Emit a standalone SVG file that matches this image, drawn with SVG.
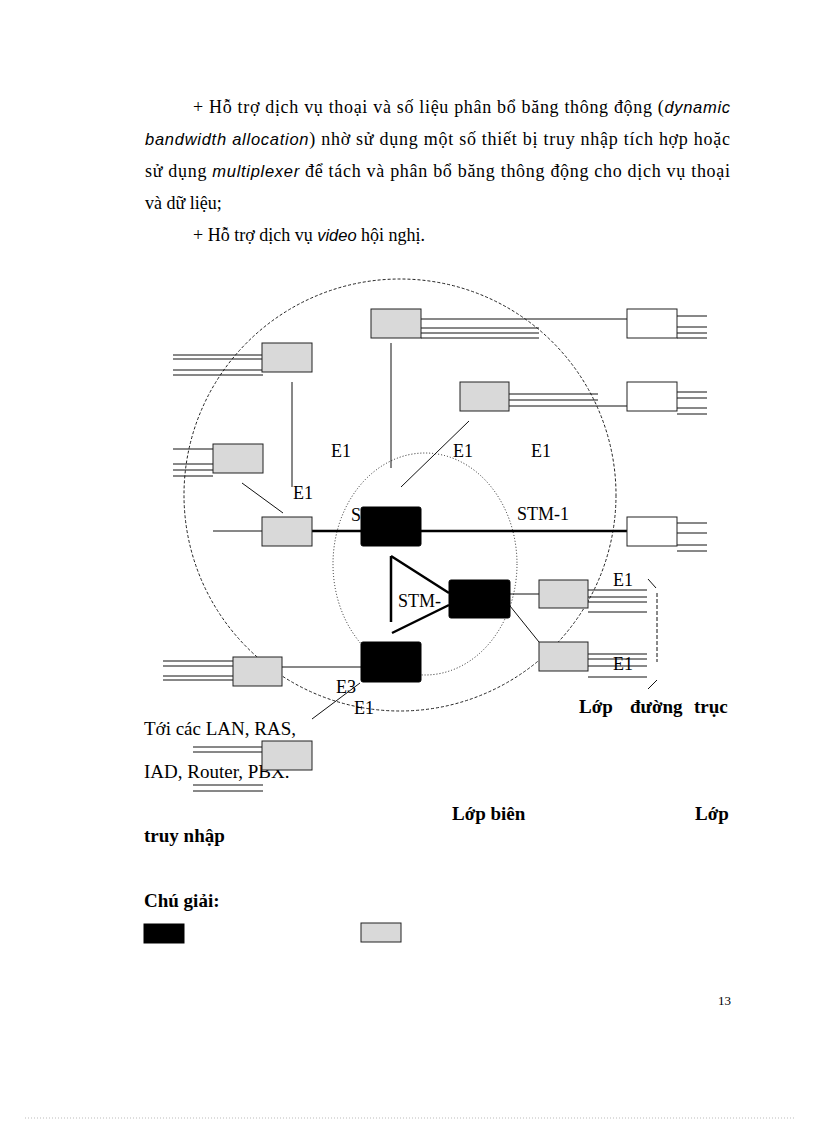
<svg xmlns="http://www.w3.org/2000/svg" width="816" height="1123" viewBox="0 0 816 1123">
<style>
.t{font-family:"Liberation Serif","Times New Roman",serif;font-size:18px;fill:#000}
.i{font-family:"Liberation Sans",Arial,sans-serif;font-style:italic;font-size:16.5px}
.b{font-family:"Liberation Serif","Times New Roman",serif;font-size:19px;font-weight:bold;fill:#000}
.lb{font-family:"Liberation Serif","Times New Roman",serif;font-size:18px;fill:#000}
.lt{font-family:"Liberation Serif","Times New Roman",serif;font-size:19px;fill:#000}
.gray{fill:#d9d9d9;stroke:#222;stroke-width:1}
.white{fill:#fff;stroke:#222;stroke-width:1}
.blk{fill:#000;stroke:#000;stroke-width:1}
.ln{stroke:#111;stroke-width:1;fill:none}
.thick{stroke:#000;stroke-width:2.5;fill:none}
.big{fill:none;stroke:#222;stroke-width:1;stroke-dasharray:3 2}
.inner{fill:none;stroke:#222;stroke-width:1;stroke-dasharray:1 2}
</style>
<rect width="816" height="1123" fill="#fff"/>

<g id="body-text">
<text class="t" x="193" y="113" textLength="537" lengthAdjust="spacing">+ Hỗ trợ dịch vụ thoại và số liệu  phân bổ băng thông động (<tspan class="i">dynamic</tspan></text>
<text class="t" x="145" y="145" textLength="585" lengthAdjust="spacing"><tspan class="i">bandwidth allocation</tspan>) nhờ sử dụng một số thiết  bị truy nhập tích hợp hoặc</text>
<text class="t" x="145" y="177" textLength="585" lengthAdjust="spacing">sử dụng <tspan class="i">multiplexer</tspan> để tách và phân bổ băng thông động cho dịch vụ thoại</text>
<text class="t" x="145" y="209">và dữ liệu;</text>
<text class="t" x="193" y="241">+ Hỗ trợ dịch vụ <tspan class="i">video</tspan> hội nghị.</text>
</g>

<g id="layers">
<ellipse id="edge-layer-circle" class="big" cx="400" cy="495" rx="216" ry="216"/>
<ellipse id="core-layer-circle" class="inner" cx="425" cy="564" rx="92" ry="111"/>
</g>

<g id="connectors">
<path class="ln" d="M173 355H262M173 359H262M173 370H262M173 375H263"/>
<path class="ln" d="M173 449H213M173 464H213M173 470H213M173 476H213"/>
<path class="ln" d="M213 531H262"/>
<path class="ln" d="M163 661H233M163 666H233M163 676H233M163 680H233"/>
<path class="ln" d="M193 747H262M193 752H262M193 785H263M193 791H263"/>
<path class="ln" d="M421 319H627M421 328H539M421 333H539M421 338H539"/>
<path class="ln" d="M509 394H598M509 400H598M509 406H627"/>
<path class="ln" d="M677 316H707M677 327H707M677 333H707M677 338H707"/>
<path class="ln" d="M677 392H707M677 398H707M677 408H707M677 414H707"/>
<path class="ln" d="M677 523H707M677 533H707M677 545H707M677 551H707"/>
<path class="thick" d="M312 531H627"/>
<path class="ln" d="M510 594H539M510 606L539 642"/>
<path class="ln" d="M588 590H647M588 597H647M588 602H647M588 612H647"/>
<path class="ln" d="M588 654H647M588 659H647M588 666H647M588 677H647"/>
<path class="ln" d="M282 667H361"/>
<path class="ln" d="M292 382V487M391 343V468"/>
<path class="ln" d="M469 421L401 487M242 483L283 513M360 683L312 719"/>
<path class="thick" stroke-width="3" d="M391 556V622M391 556L449 593M392 633L449 605"/>
<path class="ln" d="M648 579L656 588M657 680L648 689"/>
<path class="ln" stroke-dasharray="4 2" d="M657 593V662"/>
</g>

<g id="labels">
<text class="lb" x="331" y="457">E1</text>
<text class="lb" x="453" y="457">E1</text>
<text class="lb" x="531" y="457">E1</text>
<text class="lb" x="293" y="499">E1</text>
<text class="lb" x="351" y="521">S</text>
<text class="lb" x="517" y="520">STM-1</text>
<text class="lb" x="398" y="607">STM-</text>
<text class="lb" x="613" y="586">E1</text>
<text class="lb" x="613" y="670">E1</text>
<text class="lb" x="336" y="693">E3</text>
<text class="lb" x="354" y="714">E1</text>
<text class="lt" x="144" y="735">Tới các LAN, RAS,</text>
<text class="lt" x="144" y="778">IAD, Router, PBX.</text>
</g>

<g id="node-top-centre"><rect class="gray" x="371" y="309" width="50" height="29"/></g>
<g id="node-upper-left"><rect class="gray" x="262" y="343" width="50" height="29"/></g>
<g id="node-left-mid"><rect class="gray" x="213" y="444" width="50" height="29"/></g>
<g id="node-left-trunk"><rect class="gray" x="262" y="517" width="50" height="29"/></g>
<g id="node-upper-right"><rect class="gray" x="460" y="382" width="49" height="29"/></g>
<g id="node-left-bottom"><rect class="gray" x="233" y="657" width="49" height="29"/></g>
<g id="node-bottom"><rect class="gray" x="262" y="741" width="50" height="29"/></g>
<g id="node-right-1"><rect class="gray" x="539" y="580" width="49" height="28"/></g>
<g id="node-right-2"><rect class="gray" x="539" y="642" width="49" height="29"/></g>

<g id="node-white-1"><rect class="white" x="627" y="309" width="50" height="29"/></g>
<g id="node-white-2"><rect class="white" x="627" y="382" width="50" height="29"/></g>
<g id="node-white-3"><rect class="white" x="627" y="517" width="50" height="29"/></g>

<g id="node-core-1"><rect class="blk" x="361" y="507" width="60" height="39" rx="2"/></g>
<g id="node-core-2"><rect class="blk" x="449" y="580" width="61" height="38" rx="2"/></g>
<g id="node-core-3"><rect class="blk" x="361" y="642" width="60" height="40" rx="2"/></g>

<g id="layer-labels">
<text class="b" y="713"><tspan x="579">Lớp</tspan><tspan x="630">đường</tspan><tspan x="694">trục</tspan></text>
<text class="b" x="452" y="820">Lớp biên</text>
<text class="b" x="695" y="820">Lớp</text>
<text class="b" x="144" y="842">truy nhập</text>
</g>

<g id="legend">
<text class="b" x="144" y="907">Chú giải:</text>
<rect class="blk" x="144" y="924" width="40" height="19"/>
<rect class="gray" x="361" y="923" width="40" height="19"/>
</g>

<text class="t" x="718" y="1005" style="font-size:13px">13</text>
<path d="M25 1118H795" stroke="#bbb" stroke-width="1" stroke-dasharray="1 2"/>
</svg>
